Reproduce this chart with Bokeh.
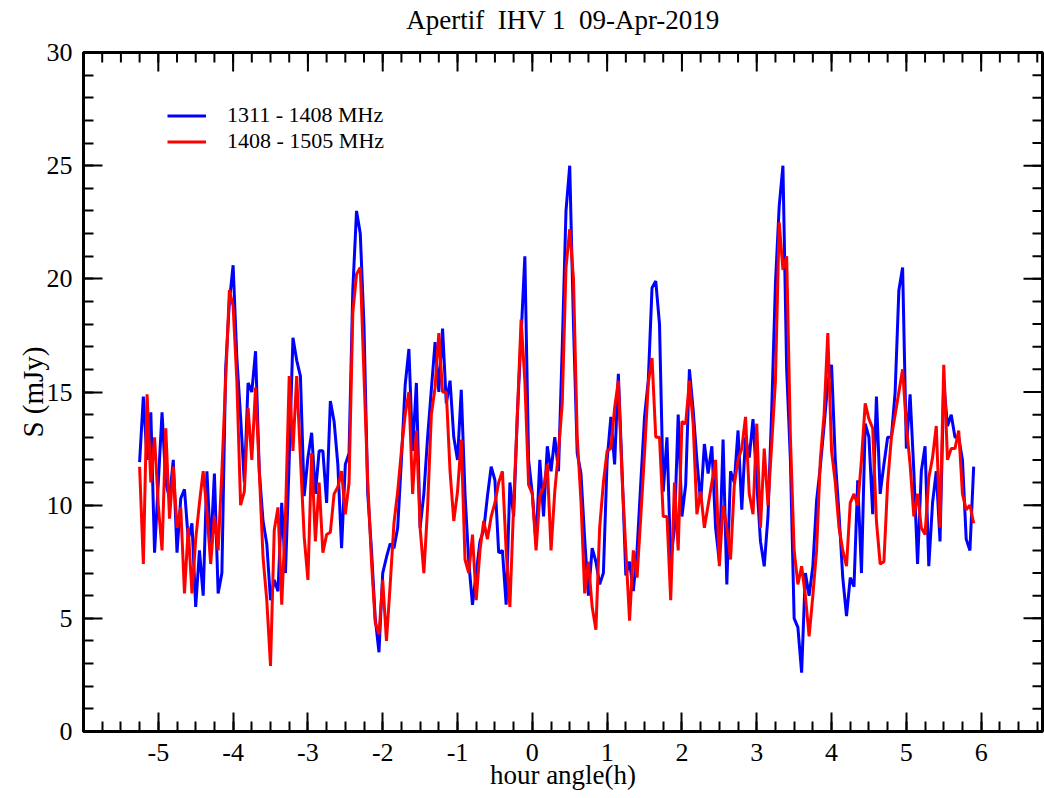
import math
from bokeh.plotting import figure
from bokeh.models import Range1d, LinearAxis, FixedTicker, Legend, LegendItem
from bokeh.embed import file_html
from bokeh.resources import INLINE

FONT = "Liberation Serif"

# hour angle (h) of each sample
hour_angle = [
    -5.25, -5.20, -5.15, -5.10, -5.05,
    -5.00, -4.95, -4.90, -4.85, -4.80, -4.75, -4.70, -4.65, -4.60, -4.55,
    -4.50, -4.45, -4.40, -4.35, -4.30, -4.25, -4.20, -4.15, -4.10, -4.05,
    -4.00, -3.95, -3.90, -3.85, -3.80, -3.75, -3.70, -3.65, -3.60, -3.55,
    -3.50, -3.45, -3.40, -3.35, -3.30, -3.25, -3.20, -3.15, -3.10, -3.05,
    -3.00, -2.95, -2.90, -2.85, -2.80, -2.75, -2.70, -2.65, -2.60, -2.55,
    -2.50, -2.45, -2.40, -2.35, -2.30, -2.25, -2.20, -2.15, -2.10, -2.05,
    -2.00, -1.95, -1.90, -1.85, -1.80, -1.75, -1.70, -1.65, -1.60, -1.55,
    -1.50, -1.45, -1.40, -1.35, -1.30, -1.25, -1.20, -1.15, -1.10, -1.05,
    -1.00, -0.95, -0.90, -0.85, -0.80, -0.75, -0.70, -0.65, -0.60, -0.55,
    -0.50, -0.45, -0.40, -0.35, -0.30, -0.25, -0.20, -0.15, -0.10, -0.05,
    0.00, 0.05, 0.10, 0.15, 0.20, 0.25, 0.30, 0.35, 0.40, 0.45,
    0.50, 0.55, 0.60, 0.65, 0.70, 0.75, 0.80, 0.85, 0.90, 0.95,
    1.00, 1.05, 1.10, 1.15, 1.20, 1.25, 1.30, 1.35, 1.40, 1.45,
    1.50, 1.55, 1.60, 1.65, 1.70, 1.75, 1.80, 1.85, 1.90, 1.95,
    2.00, 2.05, 2.10, 2.15, 2.20, 2.25, 2.30, 2.35, 2.40, 2.45,
    2.50, 2.55, 2.60, 2.65, 2.70, 2.75, 2.80, 2.85, 2.90, 2.95,
    3.00, 3.05, 3.10, 3.15, 3.20, 3.25, 3.30, 3.35, 3.40, 3.45,
    3.50, 3.55, 3.60, 3.65, 3.70, 3.75, 3.80, 3.85, 3.90, 3.95,
    4.00, 4.05, 4.10, 4.15, 4.20, 4.25, 4.30, 4.35, 4.40, 4.45,
    4.50, 4.55, 4.60, 4.65, 4.70, 4.75, 4.80, 4.85, 4.90, 4.95,
    5.00, 5.05, 5.10, 5.15, 5.20, 5.25, 5.30, 5.35, 5.40, 5.45,
    5.50, 5.55, 5.60, 5.65, 5.70, 5.75, 5.80, 5.85, 5.90,
]

# S (mJy), 1311 - 1408 MHz
flux_1311_1408 = [
    11.9, 14.8, 12.0, 14.1, 7.9,
    11.0, 14.1, 11.0, 10.3, 12.0, 7.9, 10.3, 10.7, 8.5, 9.2,
    5.5, 8.0, 6.0, 11.5, 8.0, 11.4, 6.1, 7.0, 16.0, 19.0,
    20.6, 16.5, 13.9, 11.0, 15.4, 15.0, 16.8, 11.5, 9.3, 8.3,
    5.8, 6.7, 6.2, 10.1, 7.0, 12.0, 17.4, 16.4, 15.7, 10.4,
    12.1, 13.2, 10.5, 12.4, 12.4, 10.1, 14.6, 13.7, 11.8, 8.1,
    11.8, 12.3, 19.5, 23.0, 22.0, 17.9, 10.5, 8.0, 5.0, 3.5,
    7.0, 7.7, 8.3, 8.1, 9.0, 12.0, 15.3, 16.9, 12.4, 15.4,
    9.0, 10.5, 13.0, 15.1, 17.2, 15.0, 17.8, 14.5, 15.5, 13.0,
    12.0, 15.1, 10.5, 7.5, 5.6, 7.0, 8.4, 8.9, 10.4, 11.7,
    11.1, 7.9, 8.0, 5.6, 11.0, 9.5, 14.0, 17.5, 21.0, 12.0,
    10.5, 8.3, 12.0, 9.5, 12.6, 11.5, 13.0, 11.5, 17.0, 23.0,
    25.0, 18.0, 12.3, 11.4, 8.5, 6.0, 8.1, 7.5, 6.5, 7.0,
    12.0, 13.9, 11.8, 15.8, 11.5, 6.9, 7.5, 6.2, 8.0, 11.0,
    13.9, 15.5, 19.6, 19.9, 18.0, 10.6, 13.0, 7.5, 9.0, 14.0,
    9.5, 10.9, 16.0, 14.2, 12.0, 10.1, 12.7, 11.4, 12.6, 9.0,
    7.5, 12.9, 6.5, 11.5, 11.0, 13.3, 9.8, 13.0, 12.1, 13.8,
    11.0, 8.4, 7.3, 9.5, 14.2, 19.8, 23.2, 25.0, 16.0, 12.0,
    5.0, 4.6, 2.6, 7.0, 6.0, 7.3, 10.2, 11.7, 13.5, 15.4,
    16.2, 12.0, 9.6, 6.8, 5.1, 6.8, 6.4, 11.1, 7.0, 13.6,
    13.0, 9.6, 14.8, 10.5, 11.8, 13.0, 13.0, 15.0, 19.5, 20.5,
    12.5, 14.9, 11.5, 7.4, 11.5, 12.6, 7.3, 10.1, 11.5, 8.4,
    15.4, 13.5, 14.0, 13.0, 13.0, 12.0, 8.5, 8.0, 11.7,
]

# S (mJy), 1408 - 1505 MHz
flux_1408_1505 = [
    11.7, 7.4, 14.9, 11.0, 13.0,
    10.0, 8.0, 13.4, 9.4, 11.7, 9.0, 9.9, 6.1, 9.0, 6.1,
    8.5, 10.1, 11.5, 9.7, 7.4, 9.5, 8.0, 11.5, 15.5, 19.5,
    18.8, 15.5, 10.0, 10.6, 14.3, 12.0, 15.2, 11.5, 7.7, 5.8,
    2.9, 8.9, 9.9, 5.6, 9.5, 15.7, 12.4, 15.7, 12.1, 8.6,
    6.7, 12.3, 8.4, 11.0, 7.9, 8.7, 8.8, 10.5, 10.8, 11.5,
    9.6, 11.0, 18.5, 20.2, 20.5, 15.7, 11.0, 7.5, 4.8, 4.3,
    6.7, 4.0, 6.5, 9.2, 10.6, 12.4, 14.0, 15.0, 10.5, 13.3,
    9.0, 7.0, 9.9, 14.0, 15.2, 17.6, 15.0, 15.0, 11.5, 9.3,
    10.6, 12.9, 7.6, 7.0, 8.7, 5.8, 8.0, 9.3, 8.5, 9.5,
    10.1, 11.0, 11.5, 8.0, 5.5, 10.0, 14.0, 18.2, 15.5, 10.9,
    10.5, 8.0, 10.4, 10.8, 11.8, 8.0, 10.6, 12.4, 14.5, 20.5,
    22.2, 20.0, 13.0, 10.2, 6.1, 7.5, 5.5, 4.5, 9.0, 11.0,
    12.4, 12.5, 14.3, 15.5, 11.2, 8.0, 4.9, 8.0, 6.8, 9.5,
    12.3, 15.4, 16.5, 13.0, 13.0, 9.5, 9.5, 5.8, 11.0, 8.0,
    13.7, 13.6, 15.5, 13.6, 9.6, 10.6, 9.0, 10.0, 11.0, 12.0,
    7.3, 10.0, 9.0, 7.6, 10.9, 12.0, 12.5, 13.9, 10.5, 9.6,
    13.6, 9.0, 12.5, 10.0, 12.7, 15.5, 22.5, 20.4, 21.0, 13.0,
    8.0, 6.5, 7.3, 6.0, 4.2, 6.0, 8.0, 12.0, 14.0, 17.6,
    12.4, 11.0, 9.0, 8.0, 7.3, 10.1, 10.5, 10.0, 12.0, 14.5,
    13.8, 13.4, 9.3, 7.4, 7.5, 11.0, 13.0, 14.0, 15.0, 16.0,
    13.5, 11.8, 9.5, 10.5, 9.0, 8.7, 11.2, 12.1, 13.5, 9.0,
    16.2, 12.0, 12.5, 12.5, 13.3, 10.5, 9.8, 10.0, 9.2,
]

series_labels = ["1311 - 1408 MHz", "1408 - 1505 MHz"]
series_colors = ["#0000ff", "#ff0000"]

x_major_ticks = [-5, -4, -3, -2, -1, 0, 1, 2, 3, 4, 5, 6]
x_tick_labels = ["-5", "-4", "-3", "-2", "-1", "0", "1", "2", "3", "4", "5", "6"]
x_minor_ticks = [-6 + 0.25 * i for i in range(52)]
y_major_ticks = [0, 5, 10, 15, 20, 25, 30]
y_tick_labels = ["0", "5", "10", "15", "20", "25", "30"]
y_minor_ticks = list(range(0, 31))

# the wide gaps of the original title are kept with no-break spaces
title_text = "Apertif\u00a0 IHV 1\u00a0 09-Apr-2019"
x_label_text = "hour angle(h)"
y_label_text = "S (mJy)"

X_MIN, X_MAX = -6, 6.82
Y_MIN, Y_MAX = 0, 30

p = figure(width=1044, height=798, output_backend="svg", toolbar_location=None,
           x_range=Range1d(X_MIN, X_MAX), y_range=Range1d(Y_MIN, Y_MAX),
           x_axis_location=None, y_axis_location=None,
           min_border_left=83, min_border_right=2, min_border_top=52,
           min_border_bottom=67)
p.background_fill_color = "white"
p.border_fill_color = "white"
p.outline_line_color = "black"
p.outline_line_width = 3
p.grid.visible = False


def style_axis(ax):
    ax.axis_line_width = 3
    ax.axis_line_color = "black"
    ax.major_tick_in = 19
    ax.major_tick_out = 0
    ax.minor_tick_in = 10
    ax.minor_tick_out = 0
    ax.major_tick_line_width = 2
    ax.minor_tick_line_width = 2
    ax.major_label_text_font = FONT
    ax.major_label_text_font_size = "26px"
    ax.major_label_text_color = "black"
    ax.axis_label_text_font = FONT
    ax.axis_label_text_font_style = "normal"
    ax.axis_label_text_color = "black"
    return ax


xaxis = style_axis(LinearAxis(ticker=FixedTicker(ticks=x_major_ticks, minor_ticks=x_minor_ticks)))
xaxis.major_label_overrides = dict(zip(x_major_ticks, x_tick_labels))
xaxis.major_label_standoff = 12
xaxis.axis_label = x_label_text
xaxis.axis_label_text_font_size = "27px"
xaxis.axis_label_standoff = -4
p.add_layout(xaxis, "below")

yaxis = style_axis(LinearAxis(ticker=FixedTicker(ticks=y_major_ticks, minor_ticks=y_minor_ticks)))
yaxis.major_label_overrides = dict(zip(y_major_ticks, y_tick_labels))
yaxis.major_label_standoff = 11
yaxis.axis_label = y_label_text
yaxis.axis_label_text_font_size = "29px"
yaxis.axis_label_standoff = -5
p.add_layout(yaxis, "left")

# top axis carries only the title as its label
topaxis = style_axis(LinearAxis(ticker=FixedTicker(ticks=[], minor_ticks=[])))
topaxis.major_label_standoff = 0
topaxis.axis_label = title_text
topaxis.axis_label_text_font_size = "27px"
topaxis.axis_label_standoff = 18
p.add_layout(topaxis, "above")

# mirrored inward ticks on the top and right edges of the frame
p.ray(x=x_major_ticks, y=Y_MAX, length=19, angle=-math.pi / 2, length_units="screen",
      line_color="black", line_width=2)
p.ray(x=x_minor_ticks, y=Y_MAX, length=10, angle=-math.pi / 2, length_units="screen",
      line_color="black", line_width=2)
p.ray(x=X_MAX, y=y_major_ticks, length=19, angle=math.pi, length_units="screen",
      line_color="black", line_width=2)
p.ray(x=X_MAX, y=y_minor_ticks, length=10, angle=math.pi, length_units="screen",
      line_color="black", line_width=2)

r1 = p.line(hour_angle, flux_1311_1408, line_color=series_colors[0], line_width=3)
r2 = p.line(hour_angle, flux_1408_1505, line_color=series_colors[1], line_width=3)

legend = Legend(items=[LegendItem(label=series_labels[0], renderers=[r1]),
                       LegendItem(label=series_labels[1], renderers=[r2])],
                location=(84, 577), padding=0, margin=0, spacing=0,
                glyph_width=39, glyph_height=25, label_height=25,
                label_standoff=21, label_text_font=FONT,
                label_text_font_size="22px", label_text_color="black",
                background_fill_alpha=0, border_line_color=None)
p.add_layout(legend)

open("out.html", "w").write(file_html(p, INLINE, title="Apertif IHV 1"))
